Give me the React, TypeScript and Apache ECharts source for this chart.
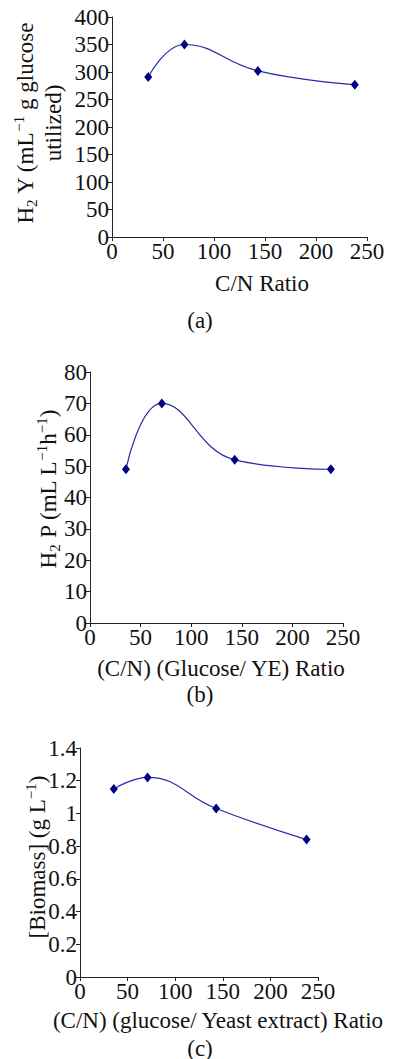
import React, { useEffect, useRef } from "react";
import * as echarts from "echarts";

// C/N ratios (shared by the three panels)
const cnRatio: number[] = [35.5, 71, 143, 238];
// (a) H2 yield, mL/g glucose utilized
const h2Yield: number[] = [291, 350, 302, 277];
// (b) H2 production rate, mL/L/h
const h2Rate: number[] = [49, 70, 52, 49];
// (c) Biomass, g/L
const biomass: number[] = [1.15, 1.22, 1.03, 0.84];

const xTicks = { min: 0, max: 250, interval: 50 };
const yTicksA = { min: 0, max: 400, interval: 50 };
const yTicksB = { min: 0, max: 80, interval: 10 };
const yTicksC = { min: 0, max: 1.4, interval: 0.2 };

const FONT = "Liberation Serif";
const FS = 23;
const TXT = "#111";
const AXIS = "#222";
const LINE = "#2a2aa8";
const MARK = "#000080";

const rich = {
  b: { fontSize: FS, fontFamily: FONT, color: TXT, lineHeight: 28 },
  sub: { fontSize: 15, fontFamily: FONT, color: TXT, lineHeight: 18, verticalAlign: "bottom" as const },
  sup: { fontSize: 15, fontFamily: FONT, color: TXT, lineHeight: 16, verticalAlign: "top" as const },
};

function xAxisOf(i: number) {
  return {
    type: "value" as const,
    gridIndex: i,
    ...xTicks,
    splitLine: { show: false },
    axisLine: { show: true, onZero: false, lineStyle: { color: AXIS, width: 1 } },
    axisTick: { show: true, inside: false, length: 4, lineStyle: { color: AXIS } },
    axisLabel: { fontSize: FS, fontFamily: FONT, color: TXT, margin: 3 },
  };
}

function yAxisOf(i: number, t: { min: number; max: number; interval: number }) {
  return {
    type: "value" as const,
    gridIndex: i,
    ...t,
    splitLine: { show: false },
    axisLine: { show: true, onZero: false, lineStyle: { color: AXIS, width: 1 } },
    axisTick: { show: true, inside: false, length: 4, lineStyle: { color: AXIS } },
    axisLabel: { fontSize: FS, fontFamily: FONT, color: TXT, margin: 3 },
  };
}

function seriesOf(i: number, ys: number[]) {
  return {
    type: "line" as const,
    xAxisIndex: i,
    yAxisIndex: i,
    data: cnRatio.map((x, k) => [x, ys[k]]),
    smooth: 0.45,
    symbol: "diamond",
    symbolSize: [8, 10],
    itemStyle: { color: MARK },
    lineStyle: { color: LINE, width: 1.2 },
  };
}

function label(x: number, y: number, text: string, rotate = false) {
  return {
    type: "text" as const,
    x,
    y,
    rotation: rotate ? Math.PI / 2 : 0,
    style: {
      text,
      rich,
      font: `${FS}px ${FONT}`,
      fill: TXT,
      align: "center" as const,
      verticalAlign: "middle" as const,
    },
  };
}

export default function App() {
  const ref = useRef<HTMLDivElement>(null);
  useEffect(() => {
    if (!ref.current) return;
    const chart = echarts.init(ref.current, null, { renderer: "svg" });
    chart.setOption({
      animation: false,
      backgroundColor: "#fff",
      grid: [
        { left: 112, top: 17, width: 255, height: 220 },
        { left: 90, top: 372, width: 253, height: 251 },
        { left: 80, top: 748, width: 238, height: 229 },
      ],
      xAxis: [xAxisOf(0), xAxisOf(1), xAxisOf(2)],
      yAxis: [yAxisOf(0, yTicksA), yAxisOf(1, yTicksB), yAxisOf(2, yTicksC)],
      series: [seriesOf(0, h2Yield), seriesOf(1, h2Rate), seriesOf(2, biomass)],
      graphic: [
        label(39, 123, "{b|H}{sub|2}{b| Y (mL}{sup|−1}{b| g glucose}\n{b|utilized)}", true),
        label(262, 283, "{b|C/N Ratio}"),
        label(200, 320, "{b|(a)}"),
        label(48, 489, "{b|H}{sub|2}{b| P (mL L}{sup|−1}{b|h}{sup|−1}{b|)}", true),
        label(221, 668, "{b|(C/N) (Glucose/ YE) Ratio}"),
        label(200, 694, "{b|(b)}"),
        label(37, 857, "{b|[Biomass] (g L}{sup|−1}{b|)}", true),
        label(218, 1020, "{b|(C/N) (glucose/ Yeast extract) Ratio}"),
        label(200, 1048, "{b|(c)}"),
      ],
    });
    return () => chart.dispose();
  }, []);
  return (
    <div
      ref={ref}
      style={{ position: "absolute", left: 0, top: 0, width: 394, height: 1059 }}
    />
  );
}
